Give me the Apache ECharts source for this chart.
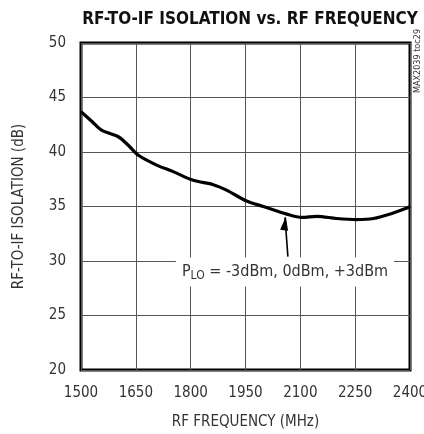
<!DOCTYPE html>
<html>
<head>
<meta charset="utf-8">
<script src="https://cdn.jsdelivr.net/npm/echarts@6/dist/echarts.min.js"></script>
<style>
  html, body { margin: 0; padding: 0; background: #fff; }
  #chart { width: 424px; height: 434px; }
</style>
</head>
<body>
<div id="chart"></div>
<script>
// curve
const freq = [1500, 1530, 1556, 1602, 1630, 1657, 1707, 1752, 1807, 1862, 1898, 1953, 1999, 2063, 2104, 2145, 2199, 2254, 2300, 2354, 2395, 2400];
const isolation = [43.7, 42.8, 42.0, 41.4, 40.6, 39.7, 38.8, 38.2, 37.4, 37.0, 36.5, 35.5, 35.0, 34.3, 34.0, 34.1, 33.9, 33.8, 33.9, 34.4, 34.9, 35.0];
const xTicks = [1500, 1650, 1800, 1950, 2100, 2250, 2400];
const yTicks = [20, 25, 30, 35, 40, 45, 50];
// arrow from label up to curve
const arrowTail = [2066, 30.4];
const arrowTip = [2058, 34.0];
const labelAt = [2058, 29.0];

const FONT = "'Liberation Sans Narrow', 'DejaVu Sans Condensed', sans-serif";

const chart = echarts.init(document.getElementById('chart'));

const option = {
    animation: false,
    title: {
        text: 'RF-TO-IF ISOLATION vs. RF FREQUENCY',
        left: 245,
        textAlign: 'center',
        top: 6,
        textStyle: { fontFamily: FONT, fontWeight: 'bold', fontSize: 17, color: '#111' }
    },
    grid: {
        left: 81, right: 14, top: 43, bottom: 64,
        outerBoundsMode: 'none',
        containLabel: false,
        show: true, borderColor: '#000', borderWidth: 3, backgroundColor: 'transparent'
    },
    xAxis: {
        type: 'value',
        min: 1500, max: 2400, interval: 150,
        name: 'RF FREQUENCY (MHz)',
        nameLocation: 'middle',
        nameGap: 45,
        nameTextStyle: { fontFamily: FONT, fontSize: 15, color: '#333' },
        axisLine: { show: false },
        axisTick: { show: false },
        axisLabel: {
            fontFamily: FONT, fontSize: 15, color: '#333', margin: 16,
            formatter: v => xTicks.includes(v) ? String(v) : ''
        },
        splitLine: { show: true, lineStyle: { color: '#555', width: 1 } }
    },
    yAxis: {
        type: 'value',
        min: 20, max: 50, interval: 5,
        name: 'RF-TO-IF ISOLATION (dB)',
        nameLocation: 'middle',
        nameGap: 54,
        nameTextStyle: { fontFamily: FONT, fontSize: 15, color: '#333' },
        axisLine: { show: false },
        axisTick: { show: false },
        axisLabel: {
            fontFamily: FONT, fontSize: 15, color: '#333', margin: 15,
            formatter: v => yTicks.includes(v) ? String(v) : ''
        },
        splitLine: { show: true, lineStyle: { color: '#555', width: 1 } }
    },
    series: [
        {
            type: 'line',
            data: freq.map((f, i) => [f, isolation[i]]),
            smooth: 0.3,
            showSymbol: false,
            lineStyle: { color: '#000', width: 3.2 },
            z: 5
        },
        {
            type: 'line',
            data: [arrowTail, arrowTip],
            showSymbol: false,
            lineStyle: { color: '#000', width: 1.6 },
            silent: true,
            z: 6,
            markPoint: {
                symbol: 'triangle',
                symbolSize: [8, 14],
                symbolOffset: [0, 6],
                symbolRotate: -7,
                itemStyle: { color: '#000' },
                label: { show: false },
                data: [{ coord: arrowTip }]
            }
        }
    ]
};
chart.setOption(option);

// label with white box and subscript, placed in data coords
const p = chart.convertToPixel({ gridIndex: 0 }, labelAt);
chart.setOption({
    graphic: [
        {
            type: 'text',
            x: p[0], y: p[1],
            z: 10,
            style: {
                text: '{a|P}{b|LO}{a| = -3dBm, 0dBm, +3dBm}',
                align: 'center',
                verticalAlign: 'middle',
                backgroundColor: '#fff',
                padding: [5, 6, 5, 6],
                rich: {
                    a: { fontFamily: FONT, fontSize: 16, fill: '#333', lineHeight: 18 },
                    b: { fontFamily: FONT, fontSize: 12, fill: '#333', padding: [7, 0, 0, 0] }
                }
            }
        },
        {
            type: 'text',
            x: 418, y: 61,
            rotation: Math.PI / 2,
            style: {
                text: 'MAX2039 toc29',
                align: 'center',
                verticalAlign: 'middle',
                fontFamily: FONT,
                fontSize: 9,
                fill: '#333'
            }
        }
    ]
});
</script>
</body>
</html>
